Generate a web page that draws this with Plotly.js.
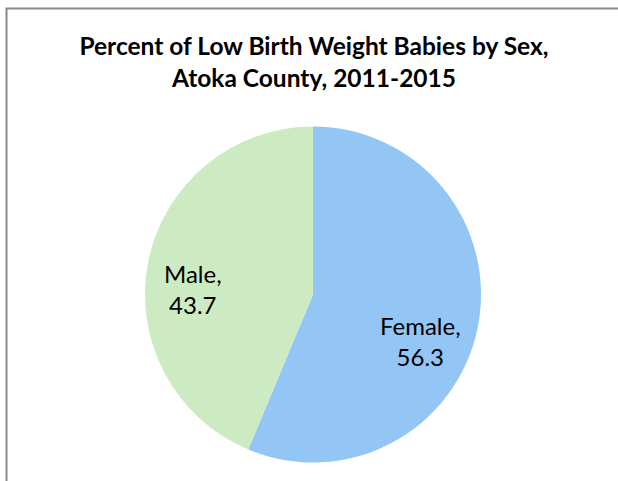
<!DOCTYPE html>
<html>
<head>
<meta charset="utf-8">
<script src="https://cdn.plot.ly/plotly-3.0.1.min.js"></script>
<style>
html,body{margin:0;padding:0;background:#fff;}
#chart{width:618px;height:481px;}
</style>
</head>
<body>
<div id="chart"></div>
<script>
const categories = ["Female", "Male"];
const percents = [56.3, 43.7];
const sliceColors = ["#94C6F5", "#CDEBC3"];
const chartTitle = "Percent of Low Birth Weight Babies by Sex,<br>Atoka County, 2011-2015";

const W = 618, H = 481;
const cx = 313, cy = 294.5, r = 168;
// label block centres (pixels), placed like the original's data labels
const labelPos = [[420, 341], [193, 289]];

const trace = {
  type: "pie",
  labels: categories,
  values: percents,
  sort: false,
  direction: "clockwise",
  rotation: 0,
  marker: {colors: sliceColors, line: {width: 0}},
  textinfo: "none",
  hoverinfo: "none",
  showlegend: false,
  domain: {
    x: [(cx - r) / W, (cx + r) / W],
    y: [(H - cy - r) / H, (H - cy + r) / H]
  }
};

const labelFont = {family: "Lato, 'Open Sans', sans-serif", size: 24, color: "#000"};
const annotations = categories.map((c, i) => ({
  xref: "paper", yref: "paper",
  x: labelPos[i][0] / W, y: 1 - labelPos[i][1] / H,
  xanchor: "center", yanchor: "middle",
  text: c + ",<br>" + percents[i].toFixed(1),
  showarrow: false,
  font: labelFont
}));

const layout = {
  width: W, height: H,
  margin: {l: 0, r: 0, t: 0, b: 0},
  paper_bgcolor: "#fff",
  title: {
    text: "<b>" + chartTitle + "</b>",
    font: {family: "Lato, 'Open Sans', sans-serif", size: 24.5, color: "#000"},
    x: 314 / W, xanchor: "center",
    y: 1 - 55 / H, yanchor: "middle"
  },
  annotations: annotations,
  shapes: [{
    type: "rect", xref: "paper", yref: "paper",
    x0: 6.5 / W, x1: 1.05, y0: -0.05, y1: 1 - 8.5 / H,
    line: {color: "#888888", width: 2}, fillcolor: "rgba(0,0,0,0)"
  }]
};

Plotly.newPlot("chart", [trace], layout, {displayModeBar: false, staticPlot: true});
</script>
</body>
</html>
